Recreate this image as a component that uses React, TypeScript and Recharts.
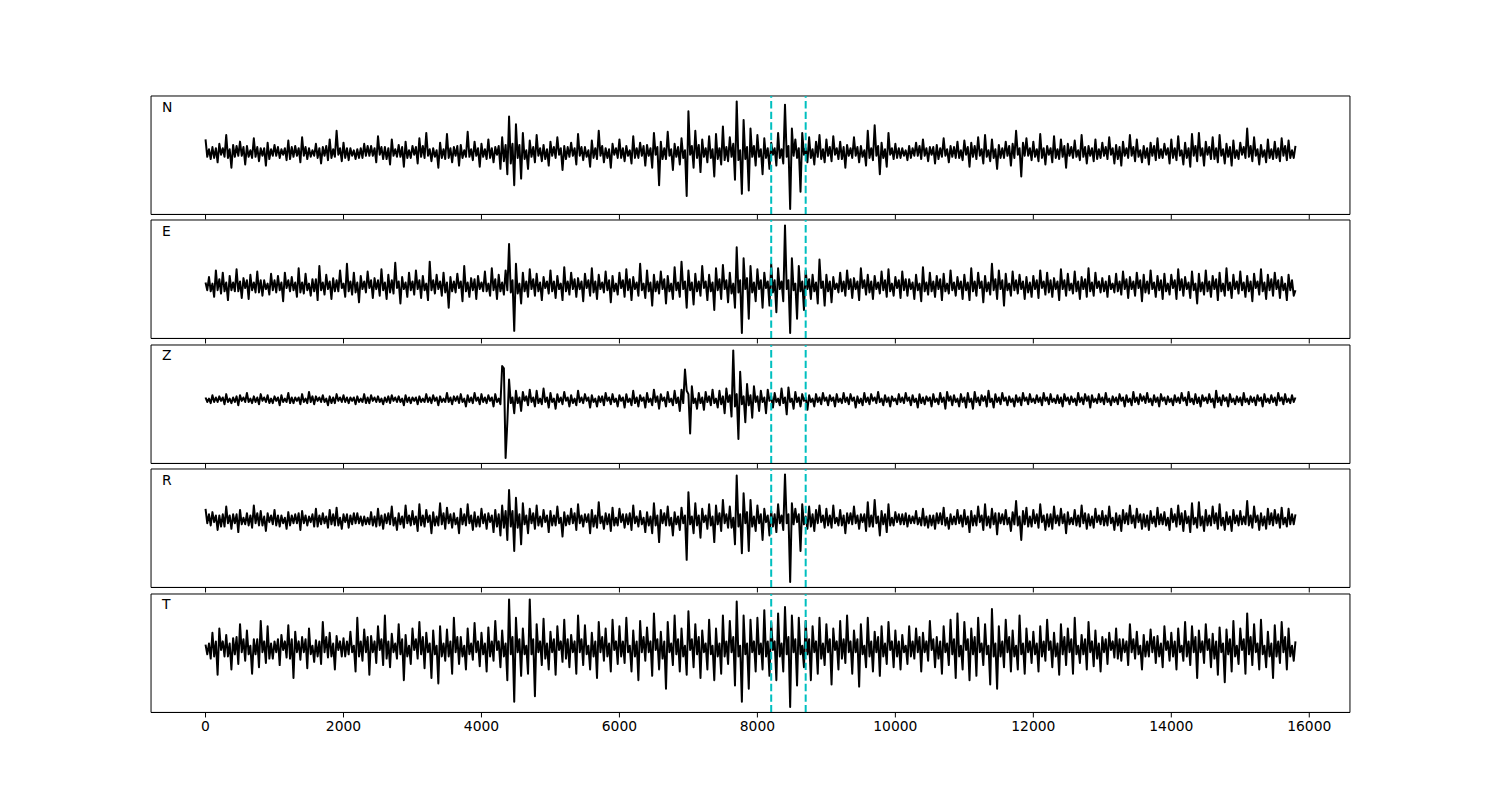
import React from 'react';
import { LineChart, Line, XAxis, YAxis, ReferenceLine, ReferenceArea } from 'recharts';

// sample spacing of the traces (x axis = sample index)
const SAMPLE_STEP = 25;
const X_TICKS = [0, 2000, 4000, 6000, 8000, 10000, 12000, 14000, 16000];
const X_DOMAIN: [number, number] = [-790, 16590];
const MARKER_TIMES = [8200, 8700];
const TRACE_LABELS = ['N', 'E', 'Z', 'R', 'T'];

const N_VALUES = [
  12, -4, 3, -6, 5, -5, 4, -9, 8, -2, 4, -4, 16, -5, 3, -14, 7, -4, 6, -3, 10, -3, 5, -11, 6, -4, 2, -5, 13, -4, 5, -8, 4, -3, 4, -12, 9, -6, 3, -3,
  7, -3, 5, -5, 3, -2, 4, -7, 11, -6, 5, -4, 6, -3, 4, -9, 14, -3, 5, -6, 4, -4, 2, -3, 8, -5, 4, -10, 5, -3, 6, -7, 12, -5, 3, -4, 20, -2, 4, -8,
  9, -5, 4, -7, 4, -3, 2, -6, 3, -5, 4, -5, 8, -3, 6, -3, 6, -3, 4, -9, 15, -2, 5, -6, 5, -6, 4, -11, 12, -3, 3, -4, 7, -4, 5, -13, 10, -5, 2, -5,
  6, -2, 5, -10, 13, -4, 6, -5, 18, -3, 3, -8, 4, -4, 2, -14, 9, -5, 3, -6, 17, -5, 4, -9, 5, -3, 6, -12, 7, -5, 2, -4, 19, -4, 3, -7, 10, -3, 4, -13,
  8, -4, 3, -6, 12, -5, 4, -9, 5, -2, 6, -15, 14, -8, 7, -20, 33, -10, 8, -30, 26, -5, 7, -24, 18, -6, 2, -15, 11, -4, 5, -9, 16, -3, 4, -8, 7, -6, 3, -12,
  10, -3, 5, -5, 14, -2, 4, -16, 6, -6, 5, -4, 9, -3, 4, -11, 17, -3, 5, -7, 5, -4, 2, -13, 11, -5, 4, -6, 20, -3, 6, -9, 4, -5, 3, -14, 8, -2, 4, -5,
  12, -5, 4, -8, 6, -3, 2, -10, 15, -5, 4, -5, 9, -3, 6, -12, 7, -3, 4, -14, 18, -2, 5, -30, 10, -6, 4, -6, 19, -3, 3, -16, 8, -4, 5, -11, 13, -5, 2, -40,
  38, -2, 6, -14, 20, -5, 7, -18, 12, -4, 4, -9, 15, -5, 3, -22, 17, -6, 4, -11, 24, -7, 5, -8, 14, -4, 8, -25, 47, -7, 2, -38, 30, -6, 5, -35, 22, -4, 6, -12,
  16, -4, 3, -20, 13, -5, 4, -15, 9, -2, 4, -12, 18, -5, 3, -10, 44, -4, 6, -52, 22, -3, 12, -5, 4, -36, 18, -2, 4, -9, 14, -5, 3, -11, 10, -4, 16, -6, 3, -9,
  12, -3, 5, -8, 15, -2, 4, -6, 10, -6, 5, -14, 7, -3, 4, -5, 14, -3, 5, -9, 6, -4, 2, -12, 20, -5, 4, -7, 25, -3, 6, -20, 9, -5, 3, -13, 18, -2, 4, -6,
  8, -5, 4, -5, 4, -3, 2, -7, 6, -5, 4, -3, 9, -3, 6, -6, 12, -3, 4, -8, 5, -2, 5, -10, 7, -6, 4, -4, 13, -3, 3, -9, 6, -4, 5, -5, 10, -5, 2, -7,
  11, -2, 5, -13, 9, -4, 6, -6, 14, -3, 3, -10, 16, -4, 2, -8, 12, -5, 3, -15, 7, -5, 4, -5, 10, -3, 6, -12, 8, -5, 20, -2, 4, -22, 9, -3, 13, -3, 4, -7,
  10, -4, 3, -8, 17, -5, 4, -11, 6, -2, 4, -9, 15, -5, 3, -6, 12, -4, 6, -14, 8, -3, 5, -5, 11, -4, 2, -7, 16, -4, 5, -10, 6, -3, 4, -8, 12, -6, 3, -5,
  9, -3, 5, -6, 14, -2, 4, -10, 7, -6, 5, -12, 10, -3, 4, -5, 16, -3, 5, -8, 12, -4, 2, -9, 6, -5, 4, -11, 9, -3, 6, -7, 13, -5, 3, -5, 8, -2, 4, -10,
  12, -5, 4, -7, 15, -3, 2, -11, 9, -5, 4, -13, 17, -3, 6, -8, 18, -3, 4, -12, 10, -2, 5, -6, 14, -6, 4, -9, 16, -3, 3, -10, 8, -4, 5, -12, 11, -5, 2, -6,
  9, -2, 5, -5, 22, -4, 6, -8, 14, -3, 3, -11, 7, -4, 2, -9, 12, -5, 3, -6, 10, -5, 4, -8, 13, -3, 6, -7, 11, -5, 2, -5, 6,
];

const E_VALUES = [
  3, -4, 8, -5, 2, -10, 14, -4, 6, -7, 12, -5, 3, -13, 9, -4, 3, -5, 15, -5, 4, -11, 7, -2, 5, -12, 10, -4, 3, -6, 13, -6, 5, -9, 5, -3, 2, -8, 11, -4,
  5, -6, 9, -4, 3, -14, 12, -2, 5, -5, 8, -4, 3, -10, 16, -6, 3, -7, 11, -4, 2, -9, 6, -5, 6, -13, 18, -4, 3, -8, 10, -3, 4, -12, 7, -5, 5, -5, 14, -2,
  2, -10, 20, -5, 4, -8, 12, -6, 3, -15, 9, -3, 4, -6, 13, -2, 5, -11, 7, -3, 5, -9, 15, -4, 3, -12, 10, -6, 5, -7, 21, -2, 4, -16, 8, -3, 3, -10, 12, -4,
  4, -8, 14, -3, 5, -11, 9, -4, 2, -13, 22, -4, 5, -7, 10, -3, 4, -9, 12, -6, 3, -20, 8, -5, 4, -6, 11, -2, 4, -14, 18, -5, 3, -10, 7, -4, 6, -12, 9, -3,
  3, -5, 13, -5, 2, -9, 16, -4, 6, -12, 10, -5, 3, -8, 14, -4, 38, -6, 5, -41, 20, -7, 2, -16, 12, -5, 4, -10, 15, -3, 6, -9, 11, -5, 3, -13, 8, -2, 4, -7,
  14, -5, 4, -11, 9, -3, 2, -13, 17, -5, 4, -8, 12, -3, 6, -10, 7, -3, 4, -14, 11, -2, 5, -9, 16, -6, 4, -12, 10, -3, 3, -6, 13, -4, 5, -15, 9, -5, 2, -8,
  12, -2, 5, -10, 15, -4, 6, -13, 8, -3, 3, -9, 20, -4, 2, -11, 14, -5, 3, -18, 10, -5, 4, -7, 13, -3, 6, -16, 9, -5, 2, -12, 17, -4, 3, -10, 22, -3, 4, -20,
  14, -4, 3, -17, 11, -5, 4, -9, 18, -2, 4, -13, 10, -5, 3, -22, 16, -4, 6, -12, 19, -3, 5, -15, 12, -7, 2, -20, 35, -6, 5, -43, 25, -3, 7, -30, 18, -6, 3, -14,
  15, -3, 5, -20, 12, -2, 4, -18, 20, -6, 5, -24, 16, -3, 4, -14, 55, -3, 5, -43, 25, -4, 2, -30, 18, -5, 4, -22, 14, -3, 6, -12, 10, -5, 3, -16, 24, -2, 4, -18,
  10, -5, 4, -15, 8, -3, 2, -6, 12, -5, 4, -9, 14, -3, 6, -11, 7, -3, 4, -13, 16, -2, 5, -8, 10, -6, 4, -12, 9, -3, 3, -7, 13, -4, 5, -10, 15, -5, 2, -9,
  8, -2, 5, -11, 13, -4, 6, -9, 6, -3, 3, -12, 10, -4, 2, -14, 17, -5, 3, -8, 12, -5, 4, -10, 9, -3, 6, -13, 11, -5, 2, -7, 14, -4, 3, -9, 8, -3, 4, -12,
  10, -4, 3, -13, 16, -5, 4, -9, 12, -2, 4, -15, 9, -5, 3, -8, 20, -4, 6, -12, 14, -3, 5, -18, 11, -4, 2, -9, 13, -4, 5, -7, 10, -3, 4, -12, 8, -6, 3, -10,
  9, -3, 5, -11, 14, -2, 4, -8, 12, -6, 5, -10, 7, -3, 4, -13, 15, -3, 5, -9, 11, -4, 2, -7, 13, -5, 4, -12, 8, -3, 6, -10, 16, -5, 3, -9, 12, -2, 4, -6,
  7, -5, 4, -10, 9, -3, 2, -6, 11, -5, 4, -8, 13, -3, 6, -11, 8, -3, 4, -9, 12, -2, 5, -14, 10, -6, 4, -7, 14, -3, 3, -10, 9, -4, 5, -12, 11, -5, 2, -8,
  10, -2, 5, -12, 15, -4, 6, -9, 8, -3, 3, -11, 13, -4, 2, -16, 11, -5, 3, -8, 14, -5, 4, -10, 9, -3, 6, -13, 12, -5, 2, -9, 16, -4, 3, -11, 10, -3, 4, -7,
  13, -4, 3, -10, 9, -5, 4, -14, 11, -2, 4, -8, 15, -5, 3, -12, 10, -4, 6, -9, 12, -3, 5, -11, 8, -4, 2, -13, 10, -4, 5, -9, -4,
];

const Z_VALUES = [
  2, -2, 1, -3, 4, -2, 2, -2, 3, -1, 2, -4, 5, -2, 1, -3, 2, -2, 3, -5, 4, -1, 2, -2, 6, -2, 1, -3, 3, -2, 2, -4, 5, -1, 2, -2, 4, -3, 1, -3,
  3, -1, 2, -5, 4, -2, 1, -2, 6, -3, 2, -3, 2, -1, 2, -4, 5, -2, 1, -3, 7, -2, 3, -4, 3, -1, 2, -2, 4, -2, 1, -5, 3, -3, 2, -3, 5, -1, 2, -2,
  4, -2, 2, -3, 2, -1, 2, -4, 3, -2, 1, -2, 5, -3, 2, -3, 4, -1, 2, -2, 3, -2, 1, -4, 2, -2, 3, -3, 4, -1, 2, -2, 3, -2, 1, -5, 4, -2, 2, -3,
  2, -1, 2, -4, 3, -2, 1, -2, 5, -2, 2, -3, 4, -1, 2, -5, 3, -2, 1, -2, 6, -2, 2, -4, 3, -1, 3, -3, 5, -2, 1, -6, 4, -2, 2, -3, 6, -1, 2, -4,
  5, -2, 2, -3, 4, -1, 2, -6, 5, -2, 1, -4, 30, 28, -52, -20, 18, -3, 2, -12, 8, -3, 2, -10, 7, -1, 3, -5, 9, -2, 2, -6, 8, -3, 1, -4, 10, -2, 2, -7,
  6, -2, 1, -8, 5, -2, 2, -4, 7, -1, 2, -6, 4, -3, 1, -5, 8, -2, 2, -3, 5, -1, 2, -7, 4, -2, 1, -6, 3, -2, 3, -5, 6, -1, 2, -4, 5, -2, 1, -6,
  4, -1, 2, -7, 5, -2, 1, -5, 8, -3, 2, -6, 4, -1, 2, -7, 6, -2, 1, -5, 9, -2, 3, -8, 5, -1, 2, -6, 7, -2, 1, -5, 8, -3, 2, -10, 9, -3, 27, 8,
  5, -30, 12, -3, 1, -8, 6, -3, 2, -9, 7, -2, 3, -5, 9, -3, 1, -7, 8, -4, 3, -12, 10, -2, 4, -15, 44, -6, 5, -35, 25, -4, 3, -20, 14, -5, 4, -16, 12, -2,
  3, -10, 8, -2, 2, -12, 9, -1, 3, -7, 6, -2, 1, -5, 10, -3, 2, -13, 11, -2, 1, -8, 7, -2, 2, -6, 5, -1, 2, -9, 4, -2, 1, -6, 5, -2, 2, -4, 6, -1,
  2, -5, 4, -1, 2, -6, 5, -2, 1, -3, 6, -2, 2, -4, 5, -1, 2, -7, 3, -3, 1, -5, 6, -2, 2, -4, 5, -1, 2, -3, 7, -2, 1, -5, 4, -2, 2, -6, 3, -1,
  1, -4, 5, -2, 2, -3, 6, -1, 2, -5, 4, -2, 1, -7, 5, -3, 2, -4, 3, -1, 2, -6, 5, -2, 1, -4, 6, -2, 2, -8, 7, -1, 3, -5, 4, -2, 1, -6, 5, -2,
  2, -7, 6, -2, 1, -8, 7, -2, 2, -5, 4, -1, 3, -6, 8, -2, 1, -7, 5, -2, 2, -4, 6, -1, 2, -5, 3, -2, 1, -6, 4, -2, 2, -5, 6, -1, 2, -4, 5, -2,
  1, -3, 4, -2, 2, -5, 6, -1, 2, -4, 5, -2, 1, -3, 4, -3, 2, -6, 5, -1, 2, -4, 3, -2, 1, -5, 6, -2, 2, -4, 5, -1, 3, -7, 4, -2, 1, -3, 5, -2,
  2, -4, 6, -2, 1, -5, 3, -2, 2, -4, 5, -1, 2, -6, 4, -2, 1, -5, 7, -2, 2, -4, 5, -1, 3, -3, 6, -2, 1, -5, 4, -2, 2, -6, 5, -1, 2, -4, 3, -2,
  1, -5, 4, -2, 2, -3, 6, -1, 2, -5, 7, -2, 1, -4, 5, -3, 2, -6, 4, -1, 2, -3, 5, -2, 1, -7, 8, -2, 2, -5, 4, -1, 2, -6, 5, -2, 1, -4, 3, -2,
  2, -5, 6, -2, 1, -4, 3, -2, 2, -5, 4, -1, 2, -6, 5, -2, 1, -3, 4, -2, 2, -5, 6, -1, 2, -4, 5, -2, 1, -3, 4, -2, 2,
];

const R_VALUES = [
  10, -3, 5, -5, 7, -2, 4, -9, 4, -6, 5, -6, 12, -3, 4, -8, 5, -3, 5, -11, 9, -4, 2, -4, 6, -5, 4, -7, 13, -3, 6, -5, 8, -5, 3, -10, 6, -2, 4, -4,
  9, -5, 4, -6, 4, -3, 2, -8, 7, -5, 4, -3, 5, -3, 6, -9, 8, -3, 4, -5, 3, -2, 5, -6, 10, -6, 4, -4, 6, -3, 3, -7, 9, -4, 5, -5, 11, -5, 2, -8,
  5, -2, 5, -7, 4, -4, 6, -3, 6, -3, 3, -5, 3, -4, 2, -4, 7, -5, 3, -6, 10, -5, 4, -8, 5, -3, 6, -4, 12, -5, 2, -9, 6, -4, 3, -7, 13, -3, 4, -5,
  8, -4, 3, -10, 14, -5, 4, -6, 9, -2, 4, -12, 7, -5, 3, -5, 15, -4, 6, -8, 11, -3, 5, -7, 6, -4, 2, -12, 10, -4, 5, -5, 14, -3, 4, -9, 7, -6, 3, -6,
  10, -3, 5, -8, 6, -2, 4, -11, 9, -6, 5, -14, 13, -7, 8, -18, 27, -6, 8, -28, 20, -7, 5, -22, 15, -4, 4, -12, 10, -3, 6, -8, 13, -5, 3, -6, 9, -2, 4, -11,
  8, -5, 4, -5, 12, -3, 2, -15, 7, -5, 4, -4, 10, -3, 6, -9, 14, -3, 4, -6, 5, -2, 5, -12, 9, -6, 4, -7, 16, -3, 3, -8, 6, -4, 5, -10, 11, -5, 2, -5,
  10, -2, 5, -7, 5, -4, 6, -9, 13, -3, 3, -6, 8, -4, 2, -11, 7, -5, 3, -12, 15, -5, 4, -20, 9, -3, 6, -5, 12, -5, 2, -14, 7, -4, 3, -9, 11, -3, 4, -36,
  25, -4, 3, -12, 15, -5, 4, -16, 10, -2, 4, -8, 14, -5, 3, -20, 13, -4, 6, -10, 18, -3, 5, -7, 12, -7, 2, -22, 40, -6, 5, -30, 24, -3, 7, -28, 18, -6, 3, -10,
  13, -3, 5, -18, 10, -2, 4, -14, 8, -6, 5, -11, 14, -3, 4, -9, 41, -3, 5, -56, 15, -4, 10, -2, 5, -28, 14, -4, 3, -8, 12, -6, 5, -10, 9, -3, 13, -2, 4, -7,
  10, -5, 4, -7, 13, -3, 2, -5, 9, -5, 4, -12, 6, -3, 6, -4, 12, -3, 4, -8, 5, -2, 5, -10, 16, -6, 4, -6, 18, -3, 3, -14, 8, -4, 5, -11, 14, -5, 2, -5,
  7, -2, 5, -4, 5, -4, 6, -6, 4, -3, 3, -3, 8, -4, 2, -5, 10, -5, 3, -7, 4, -5, 4, -8, 6, -3, 6, -4, 11, -5, 2, -8, 5, -4, 3, -4, 9, -3, 4, -6,
  9, -4, 3, -11, 8, -5, 4, -5, 12, -2, 4, -9, 14, -5, 3, -7, 10, -4, 6, -13, 6, -3, 5, -4, 9, -4, 2, -10, 7, -4, 17, -5, 3, -18, 8, -4, 11, -6, 3, -6,
  9, -3, 5, -7, 14, -2, 4, -9, 5, -6, 5, -8, 12, -3, 4, -5, 10, -3, 5, -12, 7, -4, 2, -4, 9, -5, 4, -6, 13, -3, 6, -8, 5, -5, 3, -7, 10, -2, 4, -4,
  8, -5, 4, -5, 12, -3, 2, -9, 6, -5, 4, -10, 9, -3, 6, -4, 13, -3, 4, -7, 10, -2, 5, -8, 5, -6, 4, -9, 8, -3, 3, -6, 11, -4, 5, -4, 7, -5, 2, -9,
  10, -2, 5, -6, 13, -4, 6, -10, 8, -3, 3, -11, 15, -4, 2, -7, 16, -5, 3, -10, 9, -5, 4, -5, 12, -3, 6, -8, 14, -5, 2, -9, 7, -4, 3, -10, 9, -3, 4, -5,
  8, -4, 3, -4, 17, -5, 4, -7, 12, -2, 4, -9, 6, -5, 3, -8, 10, -4, 6, -5, 9, -3, 5, -7, 11, -4, 2, -6, 10, -4, 5, -4, 5,
];

const T_VALUES = [
  3, -6, 4, -10, 14, -8, 6, -25, 18, -2, 6, -8, 12, -8, 4, -20, 9, -6, 10, -15, 22, -4, 8, -12, 16, -6, 2, -24, 8, -6, 8, -18, 25, -4, 6, -14, 20, -10, 4, -10,
  6, -4, 8, -16, 12, -2, 6, -9, 21, -10, 8, -28, 15, -4, 6, -11, 10, -4, 8, -19, 18, -6, 2, -13, 7, -8, 6, -15, 24, -4, 10, -9, 14, -8, 4, -20, 11, -2, 6, -8,
  9, -8, 6, -6, 15, -4, 2, -22, 28, -8, 6, -12, 17, -4, 10, -25, 11, -4, 6, -14, 20, -2, 8, -16, 30, -10, 6, -18, 13, -4, 4, -10, 22, -6, 8, -30, 12, -8, 2, -15,
  18, -2, 8, -10, 24, -6, 10, -19, 14, -4, 4, -28, 16, -6, 2, -33, 20, -8, 4, -12, 17, -8, 6, -24, 28, -4, 10, -15, 10, -8, 2, -20, 18, -6, 4, -11, 23, -4, 6, -17,
  14, -6, 4, -22, 19, -8, 6, -12, 25, -2, 6, -18, 16, -8, 4, -30, 45, -6, 10, -50, 28, -4, 8, -26, 18, -6, 2, -24, 45, -6, 8, -45, 22, -4, 6, -16, 27, -10, 4, -20,
  15, -4, 8, -25, 20, -2, 6, -13, 26, -10, 8, -18, 12, -4, 6, -24, 30, -4, 8, -16, 21, -6, 2, -20, 14, -8, 6, -28, 24, -4, 10, -12, 18, -8, 4, -22, 26, -2, 6, -15,
  20, -8, 6, -14, 28, -4, 2, -22, 16, -8, 6, -30, 25, -4, 10, -12, 19, -4, 6, -26, 32, -2, 8, -20, 15, -10, 6, -38, 24, -4, 4, -16, 30, -6, 8, -22, 18, -8, 2, -25,
  34, -2, 8, -18, 22, -6, 10, -28, 16, -4, 4, -20, 26, -6, 2, -30, 18, -8, 4, -24, 30, -8, 6, -15, 25, -4, 10, -35, 43, -8, 2, -50, 30, -6, 4, -38, 26, -4, 6, -22,
  28, -6, 4, -20, 35, -8, 6, -26, 24, -2, 6, -30, 32, -8, 4, -22, 38, -6, 10, -55, 30, -4, 8, -35, 28, -6, 2, -18, 25, -6, 8, -30, 20, -4, 6, -24, 28, -10, 4, -16,
  22, -4, 8, -34, 18, -2, 6, -20, 25, -10, 8, -14, 30, -4, 6, -24, 16, -4, 8, -36, 22, -6, 2, -18, 28, -8, 6, -22, 15, -4, 10, -26, 20, -8, 4, -15, 24, -2, 6, -18,
  16, -8, 6, -20, 12, -4, 2, -15, 20, -8, 6, -10, 18, -4, 10, -22, 14, -4, 6, -12, 25, -2, 8, -18, 10, -10, 6, -24, 20, -4, 4, -16, 26, -6, 8, -28, 32, -8, 2, -20,
  24, -2, 8, -30, 18, -6, 10, -26, 28, -4, 4, -16, 22, -6, 2, -34, 36, -8, 4, -38, 20, -8, 6, -18, 26, -4, 10, -22, 16, -8, 2, -20, 30, -6, 4, -24, 18, -4, 6, -14,
  15, -6, 4, -22, 20, -8, 6, -12, 26, -2, 6, -18, 14, -8, 4, -25, 22, -6, 10, -16, 18, -4, 8, -24, 28, -6, 2, -14, 12, -6, 8, -20, 24, -4, 6, -17, 16, -10, 4, -22,
  10, -4, 8, -15, 14, -2, 6, -9, 18, -10, 8, -12, 8, -4, 6, -16, 22, -4, 8, -10, 15, -6, 2, -20, 12, -8, 6, -8, 17, -4, 10, -14, 11, -8, 4, -18, 20, -2, 6, -12,
  14, -8, 6, -20, 18, -4, 2, -12, 24, -8, 6, -16, 20, -4, 10, -28, 16, -4, 6, -14, 22, -2, 8, -18, 13, -10, 6, -25, 19, -4, 4, -32, 17, -6, 8, -22, 25, -8, 2, -15,
  18, -2, 8, -24, 32, -6, 10, -16, 22, -4, 4, -20, 26, -6, 2, -18, 15, -8, 4, -28, 21, -8, 6, -14, 24, -4, 10, -20, 18, -8, 2, -12, 6,
];

const TRACE_VALUES = [N_VALUES, E_VALUES, Z_VALUES, R_VALUES, T_VALUES];

const FIG_W = 1500;
const FIG_H = 800;
const PLOT_LEFT = 151;
const PLOT_RIGHT = 1350;
const PLOT_TOP = 96;
const PLOT_BOTTOM = 712;
const HSPACE = 0.05;
const PANEL_H = (PLOT_BOTTOM - PLOT_TOP) / (5 + 4 * HSPACE);
const GAP = PANEL_H * HSPACE;
const MT = 4;
const FONT = "'DejaVu Sans', sans-serif";
const TRACE_COLOR = '#000000';
const MARKER_COLOR = '#00BFBF';

function Panel({ label, values, index, last }: { label: string; values: number[]; index: number; last: boolean }) {
  const data = values.map((v, i) => ({ t: i * SAMPLE_STEP, v }));
  const lo = Math.min(...values);
  const hi = Math.max(...values);
  const pad = (hi - lo) * 0.05;
  const yDomain: [number, number] = [lo - pad, hi + pad];
  const top = PLOT_TOP + index * (PANEL_H + GAP);
  const axisH = last ? 30 : 8;
  return (
    <>
      <div style={{ position: 'absolute', left: 0, top: top - MT }}>
        <LineChart
          width={FIG_W}
          height={MT + PANEL_H + axisH}
          data={data}
          margin={{ top: MT, left: PLOT_LEFT, right: FIG_W - PLOT_RIGHT, bottom: 0 }}
        >
          <XAxis
            xAxisId="b"
            dataKey="t"
            type="number"
            domain={X_DOMAIN}
            ticks={X_TICKS}
            interval={0}
            allowDataOverflow
            height={axisH}
            tickSize={5}
            tickMargin={4}
            axisLine={{ stroke: '#000', strokeWidth: 1 }}
            tickLine={{ stroke: '#000', strokeWidth: 1 }}
            tick={{ fill: '#000', fontSize: 13.9, fontFamily: FONT }}
            tickFormatter={last ? (v: number) => String(v) : () => ''}
          />
          <YAxis yAxisId="l" type="number" domain={yDomain} allowDataOverflow hide />
          <ReferenceArea
            xAxisId="b"
            yAxisId="l"
            x1={X_DOMAIN[0]}
            x2={X_DOMAIN[1]}
            y1={yDomain[0]}
            y2={yDomain[1]}
            ifOverflow="visible"
            fill="none"
            fillOpacity={0}
            stroke="#000"
            strokeWidth={1}
          />
          <Line
            xAxisId="b"
            yAxisId="l"
            dataKey="v"
            type="linear"
            dot={false}
            activeDot={false}
            stroke={TRACE_COLOR}
            strokeWidth={2}
            strokeLinejoin="round"
            isAnimationActive={false}
          />
          {MARKER_TIMES.map((m) => (
            <ReferenceLine
              key={m}
              xAxisId="b"
              yAxisId="l"
              x={m}
              stroke={MARKER_COLOR}
              strokeWidth={2}
              strokeDasharray="7.4 3.2"
            />
          ))}
        </LineChart>
      </div>
      <div
        style={{
          position: 'absolute',
          left: 162,
          top: top + 4.5,
          fontSize: 13.9,
          lineHeight: 1,
          fontFamily: FONT,
          color: '#000',
        }}
      >
        {label}
      </div>
    </>
  );
}

export default function App() {
  return (
    <div style={{ position: 'absolute', left: 0, top: 0, width: FIG_W, height: FIG_H, background: '#fff' }}>
      {TRACE_LABELS.map((lab, i) => (
        <Panel key={lab} label={lab} values={TRACE_VALUES[i]} index={i} last={i === TRACE_LABELS.length - 1} />
      ))}
    </div>
  );
}
